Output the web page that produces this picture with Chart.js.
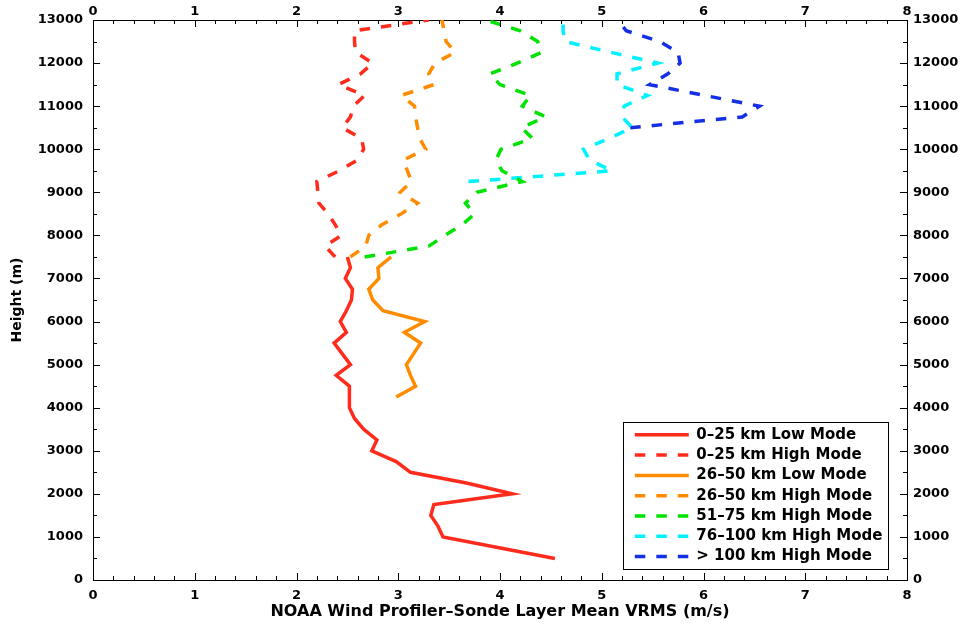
<!DOCTYPE html>
<html>
<head>
<meta charset="utf-8">
<script src="https://cdn.jsdelivr.net/npm/chart.js@4.4.1/dist/chart.umd.min.js"></script>
<style>
  html, body { margin: 0; padding: 0; background: #fff; }
  #wrap { width: 967px; height: 630px; }
</style>
</head>
<body>
<div id="wrap"><canvas id="chart" width="967" height="630"></canvas></div>
<script>
// Wind profiler vs sonde layer mean VRMS, by height and range bin.

// ── Data (x = VRMS m/s; heights in m) ──────────────────────────────

var redLowHeights = [500, 750, 1000, 1250, 1500, 1750, 2000, 2250, 2500, 2750,
  3000, 3250, 3500, 3750, 4000, 4250, 4500, 4750, 5000, 5250, 5500, 5750,
  6000, 6250, 6500, 6750, 7000, 7250, 7500];
var redLowVrms = [4.54, 3.99, 3.44, 3.39, 3.32, 3.35, 4.12, 3.67, 3.12, 2.98,
  2.74, 2.79, 2.66, 2.57, 2.52, 2.52, 2.52, 2.39, 2.53, 2.45, 2.37, 2.49,
  2.43, 2.49, 2.54, 2.55, 2.48, 2.53, 2.50];

var redHighHeights = [7500, 7750, 8000, 8250, 8500, 8750, 9000, 9250, 9500, 9750,
  10000, 10250, 10500, 10750, 11000, 11250, 11500, 11750, 12000, 12250,
  12500, 12750, 13000];
var redHighVrms = [2.38, 2.28, 2.44, 2.38, 2.31, 2.22, 2.21, 2.20, 2.42, 2.60,
  2.66, 2.64, 2.45, 2.53, 2.56, 2.67, 2.41, 2.63, 2.75, 2.58,
  2.57, 2.57, 3.30];

var orangeLowHeights = [4250, 4500, 4750, 5000, 5250, 5500, 5750, 6000, 6250,
  6500, 6750, 7000, 7250, 7500];
var orangeLowVrms = [2.98, 3.17, 3.12, 3.08, 3.15, 3.22, 3.06, 3.26, 2.85,
  2.75, 2.71, 2.81, 2.80, 2.93];

var orangeHighHeights = [7500, 7750, 8000, 8250, 8500, 8750, 9000, 9250, 9500, 9750,
  10000, 10250, 10500, 10750, 11000, 11250, 11500, 11750, 12000, 12250,
  12500, 12750, 13000];
var orangeHighVrms = [2.53, 2.68, 2.71, 2.84, 3.03, 3.19, 3.02, 3.13, 3.09, 3.05,
  3.27, 3.21, 3.19, 3.17, 3.16, 3.03, 3.35, 3.30, 3.36, 3.56,
  3.47, 3.45, 3.43];

var greenHighHeights = [7500, 7750, 8000, 8250, 8500, 8750, 9000, 9250, 9500, 9750,
  10000, 10250, 10500, 10750, 11000, 11250, 11500, 11750, 12000, 12250,
  12500, 12750, 13000];
var greenHighVrms = [2.67, 3.30, 3.46, 3.63, 3.75, 3.66, 3.77, 4.22, 4.02, 3.96,
  4.01, 4.32, 4.21, 4.45, 4.22, 4.30, 4.00, 3.90, 4.17, 4.41,
  4.37, 4.20, 3.86];

var cyanHighHeights = [9250, 9500, 9750, 10000, 10250, 10500, 10750, 11000,
  11250, 11500, 11750, 12000, 12250, 12500, 12750, 13000];
var cyanHighVrms = [3.69, 5.10, 4.88, 4.82, 5.07, 5.30, 5.20, 5.22,
  5.45, 5.15, 5.15, 5.55, 5.09, 4.64, 4.62, 4.62];

var blueHighHeights = [10500, 10750, 11000, 11250, 11500, 11750, 12000, 12250,
  12500, 12750, 13000];
var blueHighVrms = [5.28, 6.38, 6.55, 6.01, 5.47, 5.65, 5.77, 5.75,
  5.57, 5.24, 5.16];

var seriesLabels = [
  "0\u201325 km Low Mode",
  "0\u201325 km High Mode",
  "26\u201350 km Low Mode",
  "26\u201350 km High Mode",
  "51\u201375 km High Mode",
  "76\u2013100 km High Mode",
  "> 100 km High Mode",
];

var xTickValues = [0, 1, 2, 3, 4, 5, 6, 7, 8];
var yTickValues = [0, 1000, 2000, 3000, 4000, 5000, 6000, 7000, 8000, 9000,
  10000, 11000, 12000, 13000];

// ── Styling ───────────────────────────────────────────────────────

var colors = {
  red: "#ff2b1c",
  orange: "#ff8c00",
  green: "#00e300",
  cyan: "#00f2ff",
  blue: "#1430e6",
  ink: "#000000",
};

var family = '"DejaVu Sans", "Liberation Sans", Arial, sans-serif';
var tickFont = { family: family, size: 13, weight: "bold" };
var dash = [10.5, 11];

function points(heights, vrms) {
  return heights.map(function (h, i) { return { x: vrms[i], y: h }; });
}

function series(label, heights, vrms, color, dashed) {
  return {
    label: label,
    data: points(heights, vrms),
    borderColor: color,
    backgroundColor: color,
    borderWidth: 3.5,
    borderDash: dashed ? dash : [],
    pointRadius: 0,
    tension: 0,
    xAxisID: "x",
    yAxisID: "y",
  };
}

function fixedTicks(values) {
  return function (scale) {
    scale.ticks = values.map(function (v) { return { value: v }; });
  };
}

// legend samples: short line with the dataset's own dash pattern
function legendLabels(chart) {
  return chart.data.datasets.map(function (ds, i) {
    return {
      text: ds.label,
      datasetIndex: i,
      strokeStyle: ds.borderColor,
      fillStyle: ds.borderColor,
      fontColor: colors.ink,
      lineWidth: ds.borderWidth,
      lineDash: ds.borderDash,
      lineCap: "butt",
      pointStyle: "line",
      hidden: false,
    };
  });
}

// inward MATLAB-style tick marks on all four sides
var innerTicks = {
  id: "innerTicks",
  afterDraw: function (chart) {
    var ctx = chart.ctx, a = chart.chartArea, sx = chart.scales.x, sy = chart.scales.y;
    ctx.save();
    ctx.strokeStyle = colors.ink;
    ctx.lineWidth = 1;
    ctx.beginPath();
    for (var i = 0; i <= 40; i++) {
      var px = Math.round(sx.getPixelForValue(i * 0.2)) + 0.5;
      var len = i % 5 === 0 ? 7 : 4;
      ctx.moveTo(px, a.bottom); ctx.lineTo(px, a.bottom - len);
      ctx.moveTo(px, a.top); ctx.lineTo(px, a.top + len);
    }
    for (var j = 0; j <= 26; j++) {
      var py = Math.round(sy.getPixelForValue(j * 500)) + 0.5;
      var l2 = j % 2 === 0 ? 7 : 4;
      ctx.moveTo(a.left, py); ctx.lineTo(a.left + l2, py);
      ctx.moveTo(a.right, py); ctx.lineTo(a.right - l2, py);
    }
    ctx.stroke();
    ctx.restore();
  },
};

// boxed legend sitting in the lower right of the plot
var legendBox = {
  id: "legendBox",
  afterLayout: function (chart) {
    var lg = chart.legend, a = chart.chartArea;
    lg.left = a.right - 277.5;
    lg.right = a.right - 18;
    lg.top = a.bottom - 158;
    lg.bottom = a.bottom;
    lg.width = lg.right - lg.left;
    lg.height = lg.bottom - lg.top;
  },
  afterDraw: function (chart) {
    var ctx = chart.ctx, a = chart.chartArea;
    ctx.save();
    ctx.strokeStyle = colors.ink;
    ctx.lineWidth = 1;
    ctx.strokeRect(a.right - 284 + 0.5, a.bottom - 158 + 0.5, 265, 147);
    ctx.restore();
  },
};

new Chart(document.getElementById("chart"), {
  type: "line",
  data: {
    datasets: [
      series(seriesLabels[0], redLowHeights, redLowVrms, colors.red, false),
      series(seriesLabels[1], redHighHeights, redHighVrms, colors.red, true),
      series(seriesLabels[2], orangeLowHeights, orangeLowVrms, colors.orange, false),
      series(seriesLabels[3], orangeHighHeights, orangeHighVrms, colors.orange, true),
      series(seriesLabels[4], greenHighHeights, greenHighVrms, colors.green, true),
      series(seriesLabels[5], cyanHighHeights, cyanHighVrms, colors.cyan, true),
      series(seriesLabels[6], blueHighHeights, blueHighVrms, colors.blue, true),
    ],
  },
  options: {
    responsive: false,
    animation: false,
    indexAxis: "y",
    layout: { padding: 0 },
    plugins: {
      tooltip: { enabled: false },
      legend: {
        position: "chartArea",
        align: "start",
        labels: {
          usePointStyle: true,
          pointStyle: "line",
          pointStyleWidth: 54,
          padding: 5.3,
          color: colors.ink,
          font: { family: family, size: 15, weight: "bold" },
          generateLabels: legendLabels,
        },
      },
    },
    scales: {
      x: {
        type: "linear",
        position: "bottom",
        min: 0,
        max: 8,
        afterBuildTicks: fixedTicks(xTickValues),
        afterFit: function (s) { s.height = 50; },
        grid: { display: false, drawTicks: false },
        border: { display: true, color: colors.ink, width: 1 },
        ticks: { color: colors.ink, font: tickFont, padding: 8, maxRotation: 0, autoSkip: false,
          callback: function (v) { return String(v); } },
        title: {
          display: true,
          text: "NOAA Wind Profiler\u2013Sonde Layer Mean VRMS (m/s)",
          color: colors.ink,
          font: { family: family, size: 16, weight: "bold" },
          padding: { top: 0, bottom: 9 },
        },
      },
      x2: {
        type: "linear",
        position: "top",
        min: 0,
        max: 8,
        afterBuildTicks: fixedTicks(xTickValues),
        afterFit: function (s) { s.height = 20; },
        grid: { display: false, drawTicks: false },
        border: { display: true, color: colors.ink, width: 1 },
        ticks: { color: colors.ink, font: tickFont, padding: 1, maxRotation: 0, autoSkip: false,
          callback: function (v) { return String(v); } },
      },
      y: {
        type: "linear",
        position: "left",
        min: 0,
        max: 13000,
        afterBuildTicks: fixedTicks(yTickValues),
        afterFit: function (s) { s.width = 93; },
        grid: { display: false, drawTicks: false },
        border: { display: true, color: colors.ink, width: 1 },
        ticks: { color: colors.ink, font: tickFont, padding: 10, autoSkip: false,
          callback: function (v) { return String(v); } },
        title: {
          display: true,
          text: "Height (m)",
          color: colors.ink,
          font: { family: family, size: 14, weight: "bold" },
          padding: { top: 8.6, bottom: 0 },
        },
      },
      y2: {
        type: "linear",
        position: "right",
        min: 0,
        max: 13000,
        afterBuildTicks: fixedTicks(yTickValues),
        afterFit: function (s) { s.width = 60; },
        grid: { display: false, drawTicks: false },
        border: { display: true, color: colors.ink, width: 1 },
        ticks: { color: colors.ink, font: tickFont, padding: 6, autoSkip: false,
          callback: function (v) { return String(v); } },
      },
    },
  },
  plugins: [innerTicks, legendBox],
});
</script>
</body>
</html>
